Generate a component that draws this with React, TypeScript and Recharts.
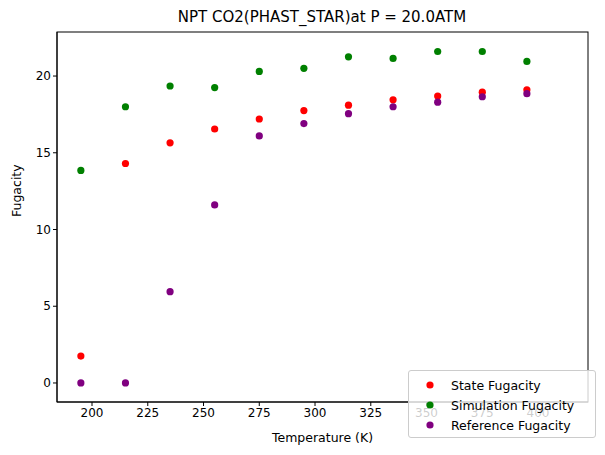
import { ScatterChart, Scatter, XAxis, YAxis, Legend } from 'recharts';

const temps = [195, 215, 235, 255, 275, 295, 315, 335, 355, 375, 395];
const stateFug = [1.75, 14.3, 15.65, 16.55, 17.2, 17.75, 18.1, 18.45, 18.7, 18.95, 19.1];
const simFug = [13.85, 18.0, 19.35, 19.25, 20.3, 20.5, 21.25, 21.15, 21.6, 21.6, 20.95];
const refFug = [0, 0, 5.95, 11.6, 16.1, 16.9, 17.55, 18.0, 18.3, 18.65, 18.85];
const xTicks = [200, 225, 250, 275, 300, 325, 350, 375, 400];
const yTicks = [0, 5, 10, 15, 20];

const toPts = (ys: number[]) => temps.map((x, i) => ({ x, y: ys[i] }));
const series = [
  { name: 'State Fugacity', color: '#ff0000', data: toPts(stateFug) },
  { name: 'Simulation Fugacity', color: '#008000', data: toPts(simFug) },
  { name: 'Reference Fugacity', color: '#800080', data: toPts(refFug) },
];

const dot = (color: string) => (p: any) => <circle cx={p.cx} cy={p.cy} r={3.6} fill={color} />;

const LegendBox = () => (
  <div style={{ position: 'absolute', left: 408, top: 370, width: 188, height: 68, background: 'rgba(255,255,255,0.8)', border: '1px solid #ccc', borderRadius: 3, fontSize: 12.5, boxSizing: 'border-box', padding: '4px 6px' }}>
    {series.map((s) => (
      <div key={s.name} style={{ display: 'flex', alignItems: 'center', height: 20 }}>
        <svg width={30} height={10}><circle cx={15} cy={5} r={3.6} fill={s.color} /></svg>
        <span style={{ marginLeft: 6 }}>{s.name}</span>
      </div>
    ))}
  </div>
);

export default function App() {
  return (
    <div style={{ position: 'absolute', left: 0, top: 0, fontFamily: 'DejaVu Sans' }}>
      <ScatterChart width={605} height={455} margin={{ top: 32, right: 17, left: 12, bottom: 23 }}>
        <text x={322} y={22} textAnchor="middle" fontSize={15} fill="#000">NPT CO2(PHAST_STAR)at P = 20.0ATM</text>
        <XAxis type="number" dataKey="x" domain={[184.3, 422.4]} ticks={xTicks} height={30} stroke="#000" tick={{ fill: '#000', fontSize: 12 }} tickSize={4}
          label={{ value: 'Temperature (K)', position: 'insideBottom', offset: -10, fill: '#000', fontSize: 12.5 }} allowDataOverflow />
        <YAxis type="number" dataKey="y" domain={[-1.24, 22.87]} ticks={yTicks} width={45} stroke="#000" tick={{ fill: '#000', fontSize: 12 }} tickSize={4}
          label={{ value: 'Fugacity', angle: -90, position: 'insideLeft', offset: 5, fill: '#000', fontSize: 12.5 }} allowDataOverflow />
        <svg><rect x={57} y={32} width={531} height={370} fill="none" stroke="#000" /></svg>
        {series.map((s) => (
          <Scatter key={s.name} name={s.name} data={s.data} fill={s.color} shape={dot(s.color)} isAnimationActive={false} />
        ))}
        <Legend content={() => null} />
      </ScatterChart>
      <LegendBox />
    </div>
  );
}
